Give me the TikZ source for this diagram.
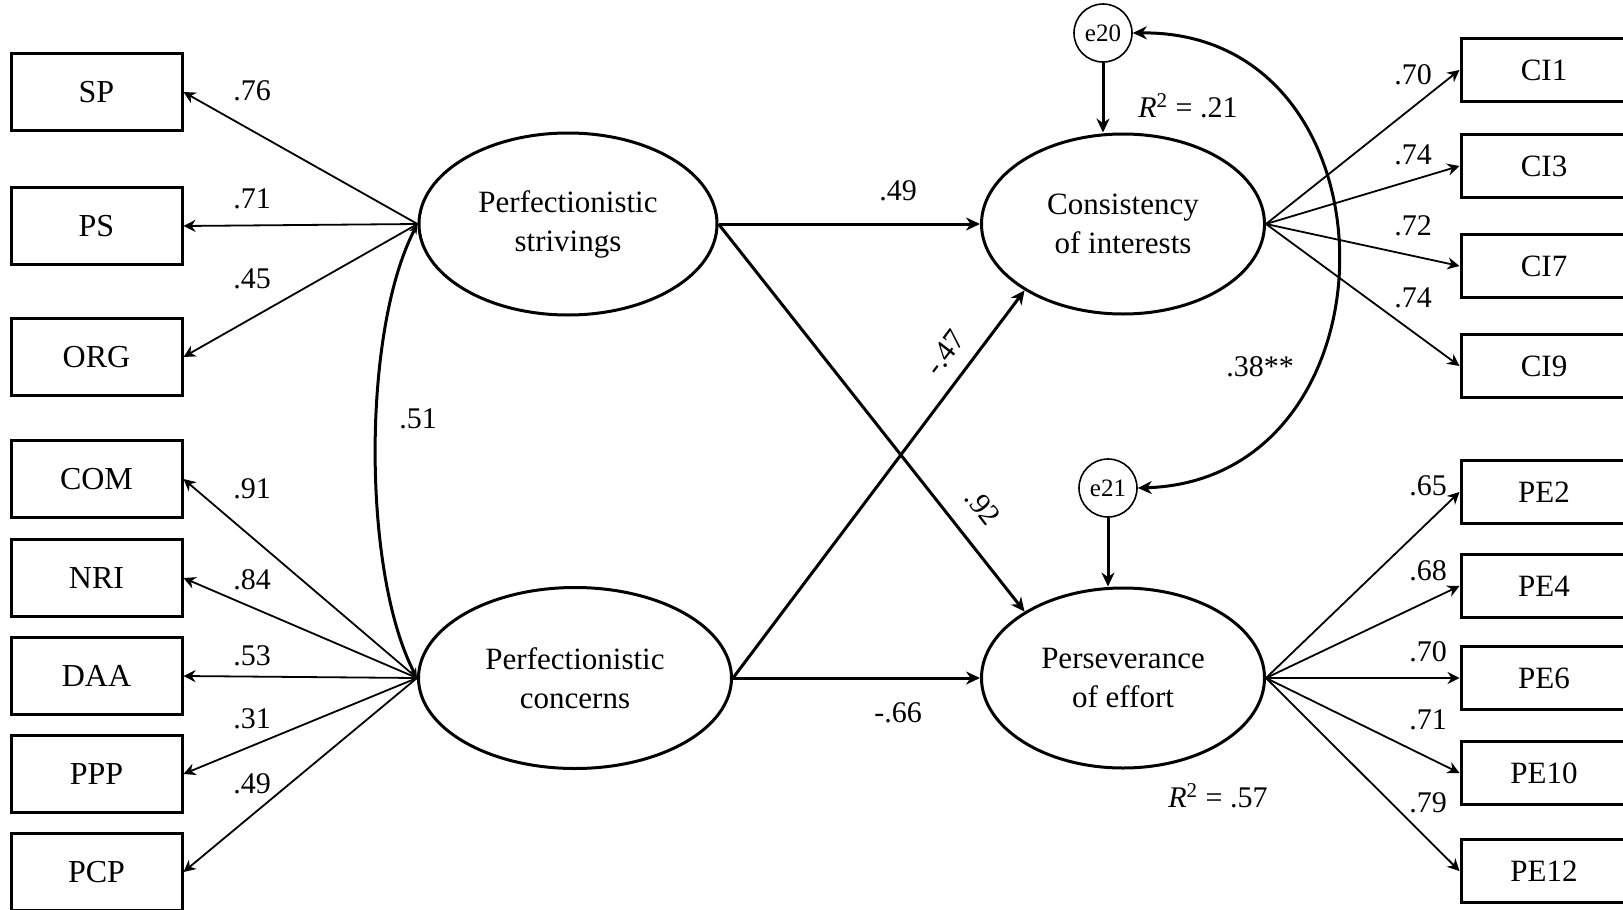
\documentclass[tikz,border=0pt]{standalone}
\usepackage{fontspec}
\setmainfont{Liberation Serif}
\usetikzlibrary{shapes.geometric, arrows.meta}

\begin{document}
\begin{tikzpicture}[
    x=0.5pt, y=-0.5pt,
    indicator/.style={rectangle, draw=black, line width=1.5pt, minimum width=85.5pt, minimum height=38.5pt, inner sep=0pt, font=\fontsize{16}{19}\selectfont},
    item/.style={indicator, minimum width=83pt, minimum height=31.5pt, font=\fontsize{15.5}{18}\selectfont},
    latent/.style={ellipse, draw=black, line width=1.5pt, inner sep=0pt, align=center, font=\fontsize{15.5}{19.5}\selectfont},
    residual/.style={circle, draw=black, line width=0.8pt, minimum size=29pt, inner sep=0pt, font=\fontsize{12.5}{14}\selectfont},
    coef/.style={inner sep=1pt, font=\fontsize{15}{18}\selectfont},
    loading/.style={-{Stealth[length=6pt, width=6pt]}, line width=0.9pt},
    effect/.style={-{Stealth[length=7pt, width=6.5pt]}, line width=1.5pt},
    covar/.style={{Stealth[length=7pt, width=6.5pt]}-{Stealth[length=7pt, width=6.5pt]}, line width=1.5pt},
]
    \useasboundingbox (0,0) rectangle (1623,910);

    % Latent variables
    \node[latent, minimum width=149pt, minimum height=91pt] (Strive) at (568,224) {Perfectionistic\\strivings};
    \node[latent, minimum width=156.5pt, minimum height=90.5pt] (Concern) at (575,678) {Perfectionistic\\concerns};
    \node[latent, minimum width=141.5pt, minimum height=90pt] (Consist) at (1123,224) {Consistency\\of interests};
    \node[latent, minimum width=141.5pt, minimum height=90pt] (Persev) at (1123,678) {Perseverance\\of effort};

    % Residuals
    \node[residual] (e20) at (1103,33) {e20};
    \node[residual] (e21) at (1108,488) {e21};

    % Indicators (left)
    \foreach \lbl/\yy/\val/\ly in {SP/92/.76/91, PS/226/.71/199, ORG/357/.45/279} {
        \node[indicator] (\lbl) at (96.5,\yy) {\lbl};
        \draw[loading] (Strive.west) -- (\lbl.east);
        \node[coef] (c\lbl) at (252,\ly) {\val};
    }
    \foreach \lbl/\yy/\val/\ly in {COM/479/.91/489, NRI/578/.84/580, DAA/676/.53/656, PPP/774/.31/719, PCP/872/.49/784} {
        \node[indicator] (\lbl) at (96.5,\yy) {\lbl};
        \draw[loading] (Concern.west) -- (\lbl.east);
        \node[coef] (c\lbl) at (252,\ly) {\val};
    }

    % Indicators (right)
    \foreach \lbl/\yy/\val/\ly in {CI1/70/.70/75, CI3/166/.74/155, CI7/266/.72/226, CI9/366/.74/298} {
        \node[item] (\lbl) at (1544,\yy) {\lbl};
        \draw[loading] (Consist.east) -- (\lbl.west);
        \node[coef] (c\lbl) at (1413,\ly) {\val};
    }
    \foreach \lbl/\yy/\val/\ly in {PE2/492/.65/486, PE4/586/.68/571, PE6/678/.70/652, PE10/773/.71/720, PE12/871/.79/803} {
        \node[item] (\lbl) at (1544,\yy) {\lbl};
        \draw[loading] (Persev.east) -- (\lbl.west);
        \node[coef] (c\lbl) at (1428,\ly) {\val};
    }

    % Structural paths
    \draw[effect] (Strive.east) -- (Consist.west);
    \draw[effect] (Strive.east) -- (Persev.146);
    \draw[effect] (Concern.east) -- (Consist.214);
    \draw[effect] (Concern.east) -- (Persev.west);
    \node[coef] (b1) at (898,191) {.49};
    \node[coef, rotate=-52] (b2) at (983,507) {.92};
    \node[coef, rotate=53] (b3) at (945,353) {-.47};
    \node[coef] (b4) at (898,713) {-.66};

    % Disturbances
    \draw[effect] (e20) -- (e20 |- Consist.north);
    \draw[effect] (e21) -- (e21 |- Persev.north);
    \node[coef] (r1) at (1188,106) {\textit{R}\textsuperscript{2} = .21};
    \node[coef] (r2) at (1218,796) {\textit{R}\textsuperscript{2} = .57};

    % Correlations
    \draw[{Stealth[length=5pt, width=4pt]}-{Stealth[length=5pt, width=4pt]}, line width=1.5pt] (Strive.west) .. controls (362,330) and (362,572) .. (Concern.west);
    \node[coef] (k1) at (418,419) {.51};
    \draw[covar] (e20.east) .. controls (1405,30) and (1405,480) .. (e21.east);
    \node[coef] (k2) at (1260,367) {.38**};

\end{tikzpicture}
\end{document}
